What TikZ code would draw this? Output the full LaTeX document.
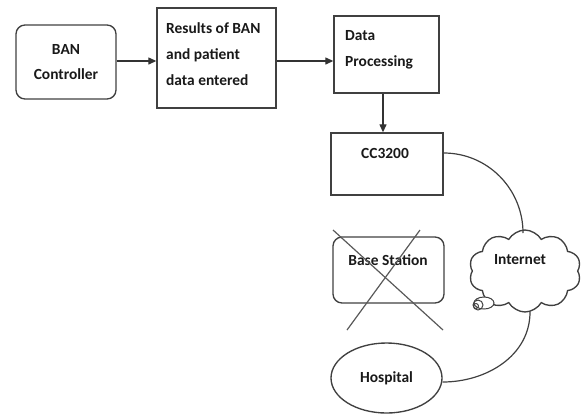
\documentclass[tikz,border=0pt]{standalone}
\usepackage{fontspec}
\setmainfont{Carlito}
\usetikzlibrary{shapes.geometric,shapes.symbols,arrows.meta}
\begin{document}
\begin{tikzpicture}[x=1bp,y=-1bp,
  every node/.style={font=\fontsize{15.5}{26}\selectfont\bfseries, text=black!90, inner sep=0pt},
  boxline/.style={draw=black!75, line width=1.35bp},
  plainbox/.style={boxline, rectangle},
  roundbox/.style={boxline, rectangle, rounded corners=9bp},
  arr/.style={draw=black!80, line width=1.2bp, -{Triangle[length=8bp,width=7bp]}},
  link/.style={draw=black!75, line width=1.2bp},
  crossline/.style={draw=black!65, line width=1.2bp}]
\useasboundingbox (0,0) rectangle (582,415);
\node[roundbox, minimum width=100bp, minimum height=74bp, align=center] (ban) at (66,62) {BAN\\Controller};
\node[plainbox, minimum width=119bp, minimum height=100bp] (res) at (216.5,58) {};
\node[anchor=base west, align=left] (restext) at (166,85) {Results of BAN\\and patient\\data entered};
\node[plainbox, minimum width=105bp, minimum height=77bp] (dp) at (386.5,54.5) {};
\node[anchor=base west, align=left] (dptext) at (345,66) {Data\\Processing};
\node[plainbox, minimum width=112bp, minimum height=62bp] (cc) at (387,164) {};
\node (cctext) at (385,153) {CC3200};
\node[roundbox, minimum width=111bp, minimum height=66bp] (bs) at (388.5,270) {};
\node (bstext) at (388,260) {Base Station};
\node[cloud, boxline, cloud puffs=10, cloud puff arc=120, aspect=1.35, minimum width=112bp, minimum height=82bp] (net) at (525,271) {};
\node (nettext) at (520,260) {Internet};
\node[ellipse, boxline, minimum width=111bp, minimum height=70bp] (hosp) at (386.5,378) {Hospital};
\draw[boxline, line width=1bp, fill=white] (484,303) ellipse (10bp and 6bp);
\draw[boxline, line width=1bp] (478,305) circle (5bp);
\draw[boxline, line width=0.9bp] (476,306) circle (2.5bp);
\coordinate (xa) at (333,230);
\coordinate (xb) at (443,330);
\coordinate (xc) at (420,230);
\coordinate (xd) at (347,330);
\draw[crossline] (xa) -- (xb);
\draw[crossline] (xc) -- (xd);
\draw[arr] (ban.east |- 0,61) -- (res.west |- 0,61);
\draw[arr] (res.east |- 0,61) -- (dp.west |- 0,61);
\draw[arr] (383,0 |- dp.south) -- (383,0 |- cc.north);
\coordinate (nettop) at (523,233);
\coordinate (netbot) at (530,312);
\draw[link] (cc.east |- 0,153) to[out=0,in=90] (nettop);
\draw[link] (netbot) to[out=-90,in=0] (hosp.east |- 0,382);
\end{tikzpicture}
\end{document}
